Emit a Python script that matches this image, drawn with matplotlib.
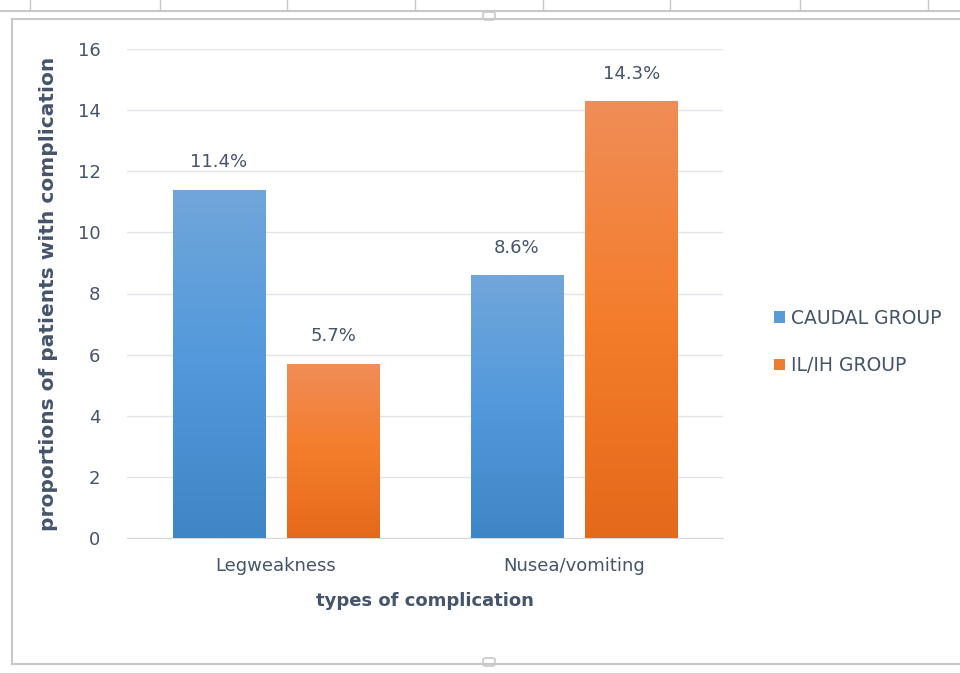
import numpy as np
import matplotlib.pyplot as plt
from matplotlib.lines import Line2D
from matplotlib.patches import FancyBboxPatch
from matplotlib.colors import LinearSegmentedColormap

categories = ["Legweakness", "Nusea/vomiting"]
series_names = ["CAUDAL GROUP", "IL/IH GROUP"]
caudal = [11.4, 8.6]
ilih = [5.7, 14.3]
yticks = [0, 2, 4, 6, 8, 10, 12, 14, 16]

plt.rcParams['font.family'] = ['DejaVu Sans']
txt = '#44546a'

W, H = 960, 673
fig = plt.figure(figsize=(W / 100, H / 100), dpi=100)
ax = fig.add_axes([127 / W, 1 - 538 / H, 596 / W, 489 / H])

x = np.arange(len(categories))
width = 0.31
off = 0.192
b1 = ax.bar(x - off, caudal, width, color='#5b9bd5', zorder=2)
b2 = ax.bar(x + off, ilih, width, color='#ed7d31', zorder=2)

# excel style vertical gradients on the bars
grads = [
    LinearSegmentedColormap.from_list('b', ['#3f86c6', '#5299dc', '#71a6da']),
    LinearSegmentedColormap.from_list('o', ['#e36a1a', '#f47d2c', '#f08d57']),
]
grad = np.linspace(0, 1, 256).reshape(-1, 1)
for bars, cmap in zip([b1, b2], grads):
    for r in bars:
        x0, y0 = r.get_x(), r.get_y()
        im = ax.imshow(grad, cmap=cmap, origin='lower', aspect='auto',
                       extent=[x0, x0 + r.get_width(), y0, y0 + r.get_height()], zorder=3)
        im.set_clip_path(r)
        ax.text(x0 + r.get_width() / 2, r.get_height() + 0.6, f"{r.get_height():.1f}%",
                ha='center', va='bottom', fontsize=13, color=txt)

ax.set_xlim(-0.5, 1.5)
ax.set_ylim(0, 16)
ax.set_yticks(yticks)
ax.set_xticks(x)
ax.set_xticklabels(categories)
ax.tick_params(axis='both', length=0, labelsize=13, colors=txt)
ax.tick_params(axis='y', pad=19)
ax.tick_params(axis='x', pad=14)
ax.grid(axis='y', color='#e1e4ea', linewidth=1, zorder=0)
for s in ['top', 'right', 'left']:
    ax.spines[s].set_visible(False)
ax.spines['bottom'].set_color('#d9d9d9')
ax.set_xlabel("types of complication", fontsize=13, fontweight='bold', color=txt, labelpad=12)
ax.set_ylabel("proportions of patients with complication", fontsize=14.5, fontweight='bold',
              color=txt, labelpad=14)

leg = fig.legend([b1, b2], series_names, loc='center left', bbox_to_anchor=(757 / W, 1 - 342 / H),
                 frameon=False, fontsize=13.5, handlelength=0.6, handleheight=0.6,
                 handletextpad=0.3, labelspacing=1.5, labelcolor=txt)

# spreadsheet frame around the chart
gc = '#c8c8c8'
fig.add_artist(Line2D([0, 1], [1 - 11 / H] * 2, color=gc, lw=1.5))
for px in [30, 160, 287, 415, 543, 670, 800, 928]:
    fig.add_artist(Line2D([px / W] * 2, [1, 1 - 10 / H], color=gc, lw=1))
fig.add_artist(Line2D([12 / W, 1.0], [1 - 19 / H] * 2, color=gc, lw=1.5))
fig.add_artist(Line2D([12 / W, 1.0], [1 - 664 / H] * 2, color=gc, lw=1.5))
fig.add_artist(Line2D([12 / W] * 2, [1 - 19 / H, 1 - 664 / H], color=gc, lw=1.5))
for py in [12, 658]:
    fig.add_artist(FancyBboxPatch((483 / W, 1 - (py + 8) / H), 12 / W, 8 / H,
                                  boxstyle='round,pad=0,rounding_size=0.003',
                                  transform=fig.transFigure, fc='white', ec=gc, lw=1.2))

fig.savefig('out.png', dpi=100)
